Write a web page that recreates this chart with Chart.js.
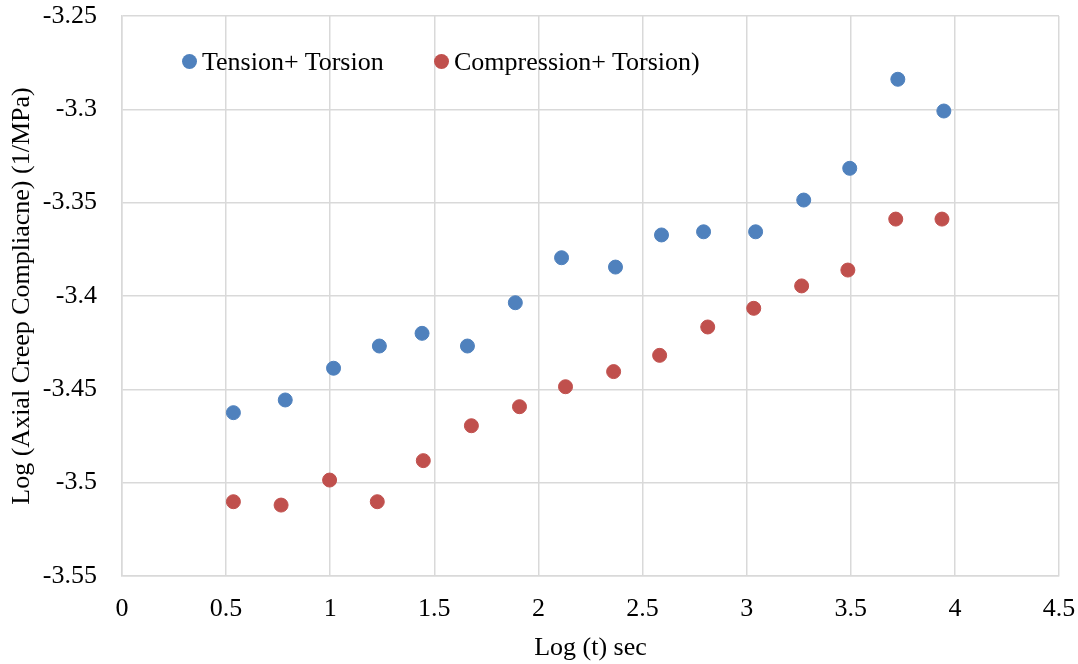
<!DOCTYPE html>
<html>
<head>
<meta charset="utf-8">
<script src="https://cdn.jsdelivr.net/npm/chart.js@4.4.0/dist/chart.umd.min.js"></script>
<style>
  body { margin: 0; background: #fff; }
  .wrap { position: relative; width: 1078px; height: 664px; }
  .legend {
    position: absolute; top: 45px; left: 182px;
    font-family: "Liberation Serif", "Times New Roman", serif;
    font-size: 26px; color: #000; white-space: nowrap;
  }
  .legend span.item { position: absolute; top: 0; line-height: 34px; }
  .legend i {
    display: inline-block; width: 15px; height: 15px; border-radius: 50%;
    margin-right: 5px; vertical-align: 1px;
  }
</style>
</head>
<body>
<div class="wrap">
  <canvas id="chart" width="1078" height="664"></canvas>
  <div class="legend" id="legend"></div>
</div>
<script>
const seriesNames = ["Tension+ Torsion", "Compression+ Torsion)"];
const seriesColors = ["#4F81BD", "#C0504D"];

const tensionX = [0.535, 0.784, 1.016, 1.236, 1.441, 1.659, 1.889, 2.111, 2.370, 2.591, 2.793, 3.043, 3.274, 3.495, 3.726, 3.947];
const tensionY = [-3.4625, -3.4557, -3.4387, -3.4268, -3.4200, -3.4268, -3.4036, -3.3795, -3.3845, -3.3673, -3.3656, -3.3656, -3.3486, -3.3316, -3.2839, -3.3009];

const compressionX = [0.535, 0.764, 0.997, 1.226, 1.447, 1.678, 1.909, 2.130, 2.361, 2.582, 2.813, 3.034, 3.264, 3.486, 3.716, 3.938];
const compressionY = [-3.5102, -3.5120, -3.4986, -3.5102, -3.4882, -3.4695, -3.4593, -3.4486, -3.4405, -3.4318, -3.4166, -3.4066, -3.3946, -3.3861, -3.3588, -3.3588];

const xTitle = "Log (t) sec";
const yTitle = "Log (Axial Creep Compliacne) (1/MPa)";

const toPoints = (xs, ys) => xs.map((x, i) => ({ x: x, y: ys[i] }));
const fmt = (v) => String(Math.round(v * 100) / 100);

const font = { family: '"Liberation Serif", "Times New Roman", serif', size: 26 };
const gridColor = "#d9d9d9";

// html legend placed inside the plot area like the original
const legendEl = document.getElementById("legend");
const legendLeft = [0, 252];
seriesNames.forEach((name, i) => {
  let s = document.createElement("span");
  s.className = "item";
  s.style.left = legendLeft[i] + "px";
  s.innerHTML = `<i style="background:${seriesColors[i]}"></i>${name}`;
  legendEl.appendChild(s);
});

let chart = new Chart(document.getElementById("chart"), {
  type: "scatter",
  data: {
    datasets: [
      {
        label: seriesNames[0],
        data: toPoints(tensionX, tensionY),
        backgroundColor: seriesColors[0],
        borderColor: seriesColors[0],
        pointRadius: 7,
        borderWidth: 1,
      },
      {
        label: seriesNames[1],
        data: toPoints(compressionX, compressionY),
        backgroundColor: seriesColors[1],
        borderColor: seriesColors[1],
        pointRadius: 7,
        borderWidth: 1,
      },
    ],
  },
  options: {
    responsive: false,
    animation: false,
    layout: { padding: { top: 16, right: 19, left: 0, bottom: 0 } },
    plugins: { legend: { display: false }, tooltip: { enabled: false } },
    scales: {
      x: {
        type: "linear",
        min: 0,
        max: 4.5,
        afterFit: (s) => {
          s.height = 88;
          s.paddingLeft = 0;
          s.paddingRight = 0;
        },
        ticks: { stepSize: 0.5, color: "#000", font: font, padding: 18, callback: fmt },
        grid: { color: gridColor, lineWidth: 1.5, drawTicks: false },
        border: { color: gridColor, width: 1.5 },
        title: { display: true, text: xTitle, color: "#000", font: font, padding: { top: 0, bottom: 0 } },
      },
      y: {
        type: "linear",
        min: -3.55,
        max: -3.25,
        afterFit: (s) => {
          s.width = 122;
          s.paddingTop = 0;
          s.paddingBottom = 0;
        },
        ticks: { stepSize: 0.05, color: "#000", font: font, padding: 25, callback: fmt },
        grid: { color: gridColor, lineWidth: 1.5, drawTicks: false },
        border: { color: gridColor, width: 1.5 },
        title: { display: true, text: yTitle, color: "#000", font: font, padding: { top: 7, bottom: 0 } },
      },
    },
  },
});
</script>
</body>
</html>
